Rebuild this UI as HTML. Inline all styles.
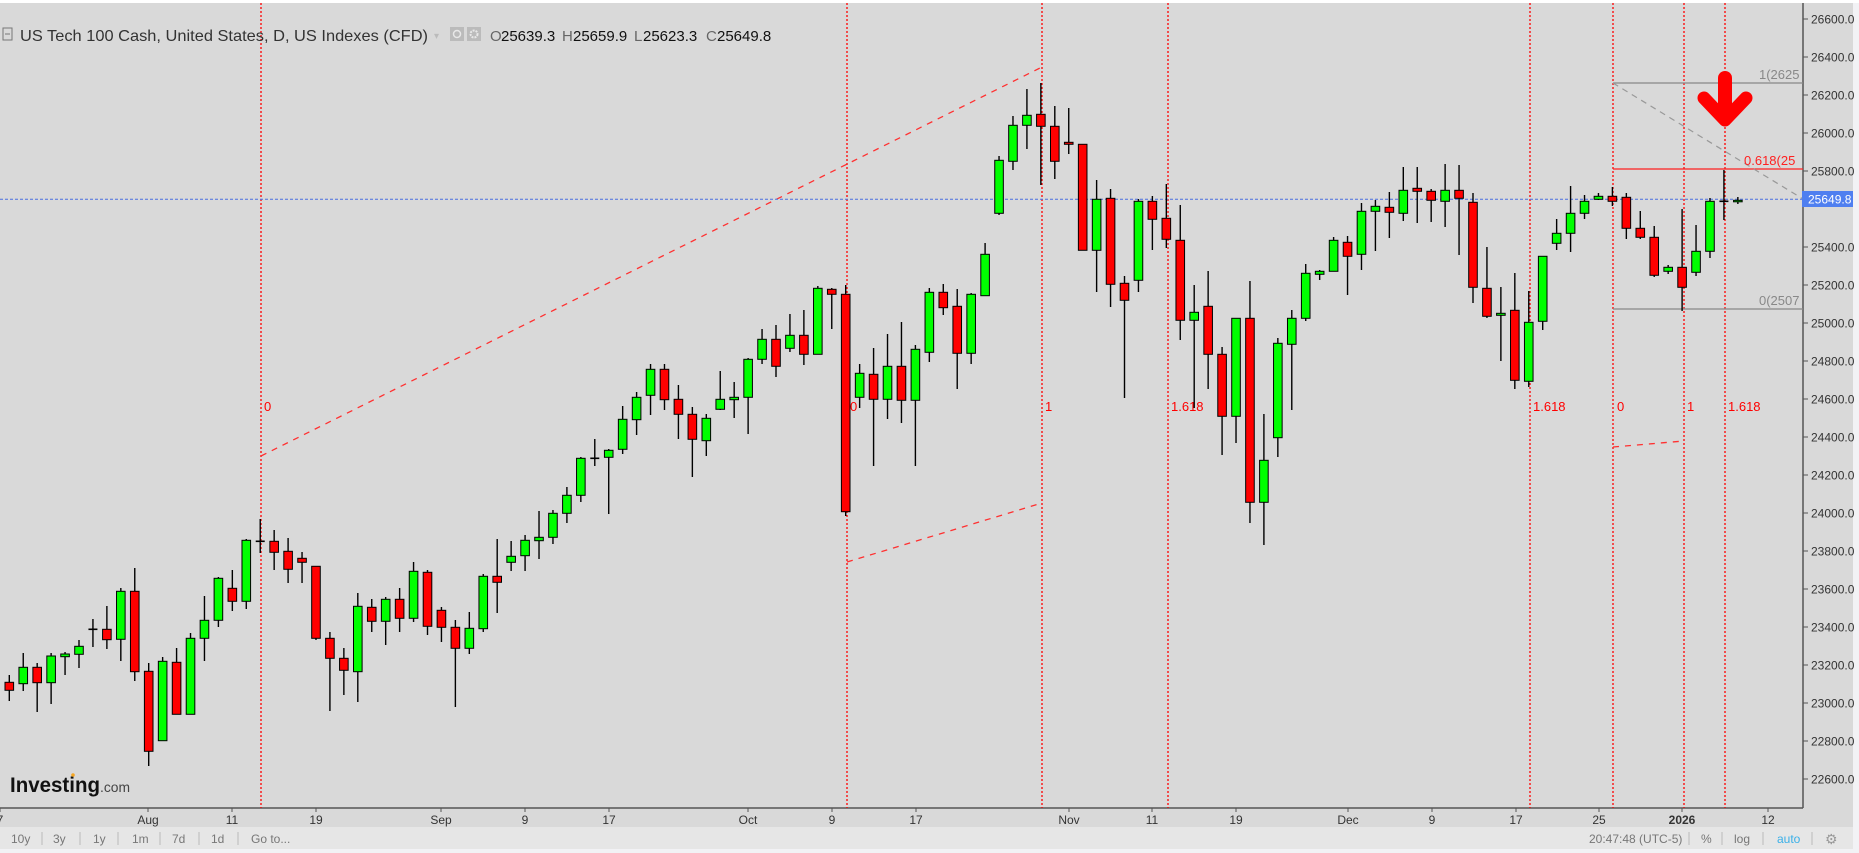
<!DOCTYPE html>
<html><head><meta charset="utf-8"><style>
html,body{margin:0;padding:0;background:#f2f2f5;}
svg{display:block;}
text{font-family:"Liberation Sans",sans-serif;}
</style></head><body>
<svg id="s" width="1859" height="853" viewBox="0 0 1859 853" xmlns="http://www.w3.org/2000/svg">
<rect x="0" y="0" width="1859" height="853" fill="#f2f2f5"/>
<rect x="0" y="3" width="1853" height="824" fill="#d9d9d9"/>
<rect x="0" y="0" width="1859" height="3" fill="#ffffff"/>
<rect x="0" y="827" width="1853" height="22" fill="#e6e6e6"/>
<!-- axes -->
<line x1="1803" y1="3" x2="1803" y2="808" stroke="#555" stroke-width="1.5"/>
<line x1="0" y1="808" x2="1803" y2="808" stroke="#555" stroke-width="1.5"/>
<g id="vl" stroke="#ff0000" stroke-width="1.3" stroke-dasharray="2,2">
<line x1="261" y1="3" x2="261" y2="808"/>
<line x1="847" y1="3" x2="847" y2="808"/>
<line x1="1042" y1="3" x2="1042" y2="808"/>
<line x1="1168" y1="3" x2="1168" y2="808"/>
<line x1="1530" y1="3" x2="1530" y2="808"/>
<line x1="1613" y1="3" x2="1613" y2="808"/>
<line x1="1684" y1="3" x2="1684" y2="808"/>
<line x1="1725" y1="3" x2="1725" y2="808"/>
</g>
<g stroke="#ff3030" stroke-width="1.3" stroke-dasharray="6,6" fill="none">
<line x1="261" y1="456" x2="1042" y2="67"/>
<line x1="847" y1="562" x2="1042" y2="503"/>
<line x1="1613" y1="447" x2="1684" y2="441"/>
</g>
<g font-size="13" fill="#ff0000" font-family="Liberation Mono,monospace">
<text x="264" y="411">0</text>
<text x="850" y="411">0</text>
<text x="1045" y="411">1</text>
<text x="1171" y="411">1.618</text>
<text x="1533" y="411">1.618</text>
<text x="1617" y="411">0</text>
<text x="1687" y="411">1</text>
<text x="1728" y="411">1.618</text>
</g>
<!-- fib -->
<line x1="1613" y1="83" x2="1803" y2="83" stroke="#888" stroke-width="1.3"/>
<line x1="1613" y1="309" x2="1803" y2="309" stroke="#888" stroke-width="1.3"/>
<line x1="1613" y1="169" x2="1803" y2="169" stroke="#ff2020" stroke-width="1.3"/>
<line x1="1613" y1="83" x2="1803" y2="199" stroke="#999" stroke-width="1.2" stroke-dasharray="6,5"/>
<line x1="0" y1="199.3" x2="1803" y2="199.3" stroke="#4a6fe0" stroke-width="1" stroke-dasharray="3,2"/>
<g id="cd"></g>
<svg x="1700" y="60" width="103" height="270" overflow="hidden">
<g font-size="13" font-family="Liberation Mono,monospace">
<text x="59" y="19" fill="#888">1(2625</text>
<text x="44" y="105" fill="#ff2020">0.618(25</text>
<text x="59" y="245" fill="#888">0(2507</text>
</g></svg>
<!-- arrow -->
<g stroke="#ff0000" stroke-linecap="round" stroke-linejoin="round" fill="none">
<line x1="1725" y1="78" x2="1725" y2="118" stroke-width="14"/>
<polyline points="1704,98 1725,120 1746,98" stroke-width="13"/>
</g>
<!-- price axis -->
<g id="pa" font-size="12" fill="#333"></g>
<rect x="1802" y="191" width="51" height="16" fill="#4f7ff0"/>
<text x="1808" y="203.5" font-size="12" fill="#fff">25649.8</text>
<!-- time axis -->
<g id="ta" font-size="12" fill="#333"></g>
<!-- title -->
<rect x="3" y="28" width="9" height="12" fill="none" stroke="#777" stroke-width="1"/>
<line x1="5" y1="34" x2="10" y2="34" stroke="#777"/>
<text x="20" y="41" font-size="16" fill="#333" textLength="408" lengthAdjust="spacingAndGlyphs">US Tech 100 Cash, United States, D, US Indexes (CFD)</text>
<text x="434" y="39" font-size="10" fill="#bbb">▾</text>
<rect x="450" y="27" width="14" height="14" fill="#bbb"/>
<rect x="467" y="27" width="14" height="14" fill="#bbb"/>
<circle cx="457" cy="34" r="3.5" fill="none" stroke="#e8e8e8" stroke-width="1.5"/>
<circle cx="474" cy="34" r="3.5" fill="none" stroke="#e8e8e8" stroke-width="2" stroke-dasharray="2,1"/>
<g font-size="15">
<text x="490" y="41" fill="#666">O</text><text x="501" y="41" fill="#111">25639.3</text>
<text x="562" y="41" fill="#666">H</text><text x="573" y="41" fill="#111">25659.9</text>
<text x="634" y="41" fill="#666">L</text><text x="643" y="41" fill="#111">25623.3</text>
<text x="706" y="41" fill="#666">C</text><text x="717" y="41" fill="#111">25649.8</text>
</g>
<!-- logo -->
<text x="10" y="792" font-size="21" font-weight="bold" fill="#111" textLength="90" lengthAdjust="spacingAndGlyphs">Investing</text>
<text x="100" y="792" font-size="14" fill="#444" textLength="30" lengthAdjust="spacingAndGlyphs">.com</text>
<circle cx="73" cy="775" r="1.8" fill="#f5a623"/>
<!-- bottom bar -->
<g font-size="12" fill="#777">
<text x="11" y="843">10y</text>
<text x="53" y="843">3y</text>
<text x="93" y="843">1y</text>
<text x="132" y="843">1m</text>
<text x="172" y="843">7d</text>
<text x="211" y="843">1d</text>
<text x="251" y="843">Go to...</text>
<text x="1589" y="843">20:47:48 (UTC-5)</text>
<text x="1701" y="843">%</text>
<text x="1734" y="843">log</text>
<text x="1777" y="843" fill="#3ab0e8">auto</text>
</g>
<g stroke="#bbb" stroke-width="1">
<line x1="42" y1="832" x2="42" y2="845"/><line x1="80" y1="832" x2="80" y2="845"/>
<line x1="118" y1="832" x2="118" y2="845"/><line x1="160" y1="832" x2="160" y2="845"/>
<line x1="199" y1="832" x2="199" y2="845"/><line x1="238" y1="832" x2="238" y2="845"/>
<line x1="1689" y1="832" x2="1689" y2="845"/><line x1="1722" y1="832" x2="1722" y2="845"/>
<line x1="1763" y1="832" x2="1763" y2="845"/><line x1="1812" y1="832" x2="1812" y2="845"/>
</g>
<text x="1825" y="844" font-size="14" fill="#999">⚙</text>
</svg>
<script>
var D=[
"r,682.3,690.3,675,701","g,667.3,683.7,653,691","r,667.3,682.7,663,712","g,656,682.7,653,704","g,654,656.7,652,675",
"g,646.3,654.3,640,668","d,629.3,629.3,619,647","r,629.3,639.7,606,649","g,591.3,639.3,588,661","r,591.3,671.7,568,681",
"r,671.3,751.3,663,766","g,661.3,740.7,657,741","r,662.3,714.3,648,714","g,638.3,714.3,633,714","g,620.3,638.3,596,661",
"g,578.3,620.3,577,627","r,588.3,601.3,570,611","g,540.3,601.3,539,609","d,541.3,541.3,519,553","r,541.3,552.3,530,570",
"r,551.3,569.3,538,583","r,558.3,562.3,552,583","r,566.3,638.3,566,640","r,638.3,658.3,632,711","r,658.3,670.3,648,695",
"g,606.3,671.7,593,702","r,607.3,621.3,599,632","g,599.3,621.3,597,645","r,599.3,618.3,588,632","g,571.3,618.3,562,622",
"r,572.3,626.3,570,635","r,610.3,627.3,607,642","r,627.3,648.3,620,707","g,628.3,648.3,612,654","g,576.3,628.7,574,632",
"r,576.3,582.3,539,613","g,556.3,562.3,541,571","g,540.3,555.7,535,571","g,537.3,540.7,511,559","g,513.3,537.3,510,544",
"g,495.3,513.3,487,523","g,458.3,495.3,457,502","d,458.3,458.3,439,466","g,450.3,457.3,449,514","g,419.3,449.3,406,454",
"g,397.3,419.7,392,435","g,369.3,395.3,364,415","r,369.3,399.7,364,410","r,399.3,414.3,385,439","r,414.3,439.3,407,477",
"g,418.3,440.7,414,456","g,399.3,409.3,371,410","g,397.3,399.7,382,418","g,359.3,397.3,358,434","g,339.3,359.3,329,364",
"r,339.3,366.3,325,377","g,335.3,348.3,314,352","r,335.3,354.3,310,365","g,288.3,354.3,286,354","r,289.3,294.3,288,329",
"r,294.3,511.7,285,516","g,373.3,397.3,364,408","r,374.3,399.3,348,466","g,366.3,399.3,334,419","r,366.3,400.3,322,423",
"g,349.3,400.3,345,466","g,292.3,352.3,288,362","r,292.3,307.7,284,315","r,306.3,353.3,289,389","g,294.3,353.3,293,364",
"g,254.3,295.7,243,296","g,160.3,213.3,156,215","g,125.3,161.3,116,170","g,115.3,125.3,89,149","r,114.3,126.3,83,185",
"r,126.3,161.3,106,179","r,142.3,144.3,108,154","r,144.3,250.3,144,250","g,199.3,250.3,180,292","r,198.3,284.3,189,307",
"r,283.3,300.3,276,398","g,201.3,280.3,199,292","r,201.3,219.3,196,250","r,218.3,239.3,184,248","r,240.3,320.3,205,340",
"g,312.3,320.3,285,408","r,306.3,354.3,271,389","r,354.3,416.3,347,455","g,318.3,416.3,318,443","r,318.3,502.3,281,523",
"g,460.3,502.3,414,545","g,343.3,437.7,338,457","g,318.3,344.3,310,410","g,273.3,318.3,264,321","g,271.3,274.3,270,280",
"g,240.3,271.3,237,271","r,242.3,256.3,236,295","g,211.3,254.3,203,270","g,206.3,211.3,200,251","r,207.3,212.3,192,238",
"g,190.3,213.3,167,221","r,188.3,191.3,167,223","r,191.3,200.3,189,222","g,190.3,201.3,164,227","r,190.3,198.3,165,255",
"r,202.3,287.3,193,303","r,288.3,316.3,247,318","g,313.3,315.3,287,361","r,310.3,380.3,273,389","g,322.3,381.3,291,387",
"g,256.3,321.3,256,330","g,233.3,243.3,219,250","g,213.3,233.3,186,252","g,201.3,213.3,195,219","g,196.3,199.3,193,200",
"r,196.3,201.3,187,206","r,197.3,228.3,193,239","r,228.3,237.3,211,239","r,237.3,275.3,226,277","g,267.3,271.3,265,274",
"r,267.3,287.3,209,311","g,251.3,272.3,225,276","g,201.3,251.3,198,258","d,201.3,201.3,170,220","g,200.3,201.3,197,204"];
var ns="http://www.w3.org/2000/svg",h="";
for(var i=0;i<D.length;i++){var a=D[i].split(","),x=9.3+i*13.94,t=+a[1],b=+a[2],hi=+a[3],lo=+a[4];
h+='<line x1="'+x+'" y1="'+hi+'" x2="'+x+'" y2="'+lo+'" stroke="#000" stroke-width="1.4"/>';
if(a[0]=="d"){h+='<line x1="'+(x-4.5)+'" y1="'+t+'" x2="'+(x+4.5)+'" y2="'+t+'" stroke="#000" stroke-width="1.6"/>';}
else{var hh=Math.max(b-t,1.5);h+='<rect x="'+(x-4.3)+'" y="'+t+'" width="8.6" height="'+hh+'" fill="'+(a[0]=="g"?"#00ff00":"#ff0000")+'" stroke="#000" stroke-width="1"/>';}}
document.getElementById("cd").innerHTML=h;
var p="";for(var v=26600;v>=22600;v-=200){if(v==25600)continue;var y=19+(26600-v)*0.19;
p+='<line x1="1803" y1="'+y+'" x2="1808" y2="'+y+'" stroke="#555"/><text x="1811" y="'+(y+4.5)+'">'+v+'.0</text>';}
document.getElementById("pa").innerHTML=p;
var T=[["7",0],["Aug",148],["11",232],["19",316],["Sep",441],["9",525],["17",609],["Oct",748],["9",832],["17",916],["Nov",1069],["11",1152],["19",1236],["Dec",1348],["9",1432],["17",1516],["25",1599],["2026",1682],["12",1768]];
var s="";for(var j=0;j<T.length;j++){var tx=T[j][1];
s+='<line x1="'+tx+'" y1="808" x2="'+tx+'" y2="812" stroke="#555"/><text x="'+tx+'" y="824" text-anchor="middle"'+(T[j][0]=="2026"?' font-weight="bold"':'')+'>'+T[j][0]+'</text>';}
document.getElementById("ta").innerHTML=s;
</script>
</body></html>
